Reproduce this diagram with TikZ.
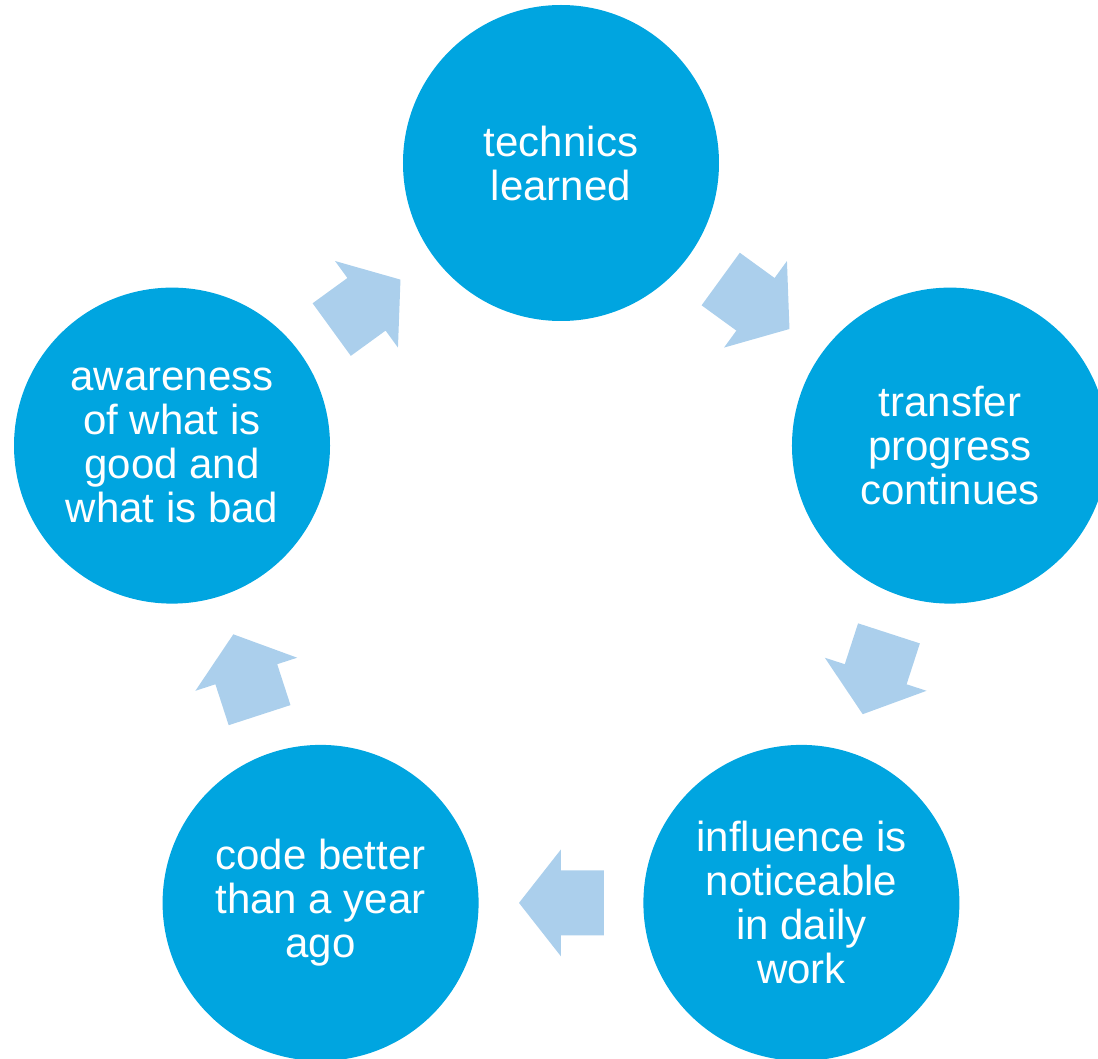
\documentclass[tikz,border=0pt]{standalone}
\usepackage{fontspec}
\setmainfont{Liberation Sans}
\usetikzlibrary{calc}
\definecolor{circleblue}{RGB}{0,165,224}
\definecolor{arrowblue}{RGB}{171,207,236}
\newcommand\cyclefont{\fontsize{42}{44}\selectfont}
\tikzset{
every node/.style={inner sep=0pt}, % text sits straight in the circle
stepcircle/.style={circle, fill=circleblue, minimum size=316, text=white, align=center, font=\cyclefont},
blockarrow/.style={fill=arrowblue}, % the broad arrows between the circles
}
% broad arrow half way between two circles, pointing from #1 to #2
\newcommand\cyclearrow[2]{%
  \fill[blockarrow] let \p1=($(#2.center)-(#1.center)$), \n1={atan2(\y1,\x1)} in
    ($(#1.center)!0.5!(#2.center)$) ++(\n1+90:32.5) -- ++(\n1+180:43) -- ++(\n1-90:65)
    -- ++(\n1:43) -- ++(\n1-90:21) -- ++(\n1+51.87:68.02) -- ++(\n1+128.13:68.02) -- cycle;
}

\begin{document}
\begin{tikzpicture}[x=1pt,y=1pt]
  \useasboundingbox (-561,-486) rectangle (537,572);
  \clip (-561,-486) rectangle (537,572);

  \node[stepcircle] (learned) at (90:409) {technics\\learned};
  \node[stepcircle] (transfer) at (18:409) {transfer\\progress\\continues};
  \node[stepcircle] (daily) at (-54:409) {influence is\\noticeable\\in daily\\work};
  \node[stepcircle] (better) at (-126:409) {code better\\than a year\\ago};
  \node[stepcircle] (aware) at (162:409) {awareness\\of what is\\good and\\what is bad};

  \cyclearrow{learned}{transfer}
  \cyclearrow{transfer}{daily}
  \cyclearrow{daily}{better}
  \cyclearrow{better}{aware}
  \cyclearrow{aware}{learned}
\end{tikzpicture}
\end{document}
